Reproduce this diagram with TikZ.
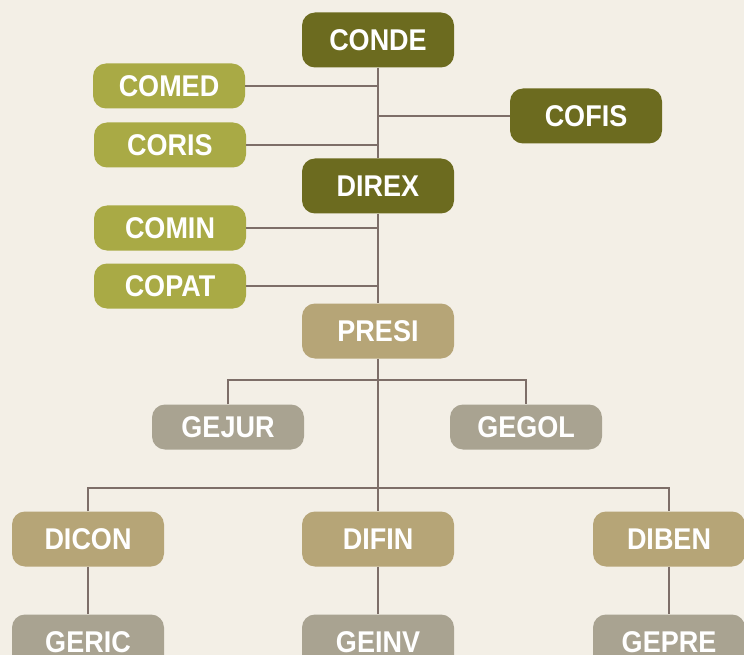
\documentclass[tikz,border=0pt]{standalone}
\usepackage{fontspec}
\setmainfont{Liberation Sans}[FakeStretch=0.9]
\usetikzlibrary{positioning}
\definecolor{bgcol}{HTML}{F3EFE6}
\definecolor{darkolive}{HTML}{6C6B1F}
\definecolor{lightolive}{HTML}{A9AA45}
\definecolor{tan}{HTML}{B6A577}
\definecolor{greytan}{HTML}{A9A391}
\definecolor{linecol}{HTML}{7D6E68}
\tikzset{
  orgbox/.style={rounded corners=13pt,minimum width=152pt,inner sep=0pt,
    text=white,font=\bfseries\fontsize{30}{30}\selectfont},
  tallbox/.style={orgbox,minimum height=55pt},
  lowbox/.style={orgbox,minimum height=45pt}}

\begin{document}
\begin{tikzpicture}[x=1pt,y=-1pt]
        \fill[bgcol] (0,0) rectangle (744,655);
        \clip (0,0) rectangle (744,655);
        \begin{scope}[every node/.style={tallbox,fill=darkolive}]
            \node (conde) at (378,40) {CONDE};
            \node (cofis) at (586,116) {COFIS};
            \node (direx) at (378,186) {DIREX};
        \end{scope}
        \begin{scope}[every node/.style={lowbox,fill=lightolive}]
            \node (comed) at (169,86) {COMED};
            \node (coris) at (170,145) {CORIS};
            \node (comin) at (170,228) {COMIN};
            \node (copat) at (170,286) {COPAT};
        \end{scope}
        \begin{scope}[every node/.style={tallbox,fill=tan}]
            \node (presi) at (378,331) {PRESI};
            \node (dicon) at (88,539) {DICON};
            \node (difin) at (378,539) {DIFIN};
            \node (diben) at (669,539) {DIBEN};
        \end{scope}
        \begin{scope}[every node/.style={lowbox,fill=greytan}]
            \node (gejur) at (228,427) {GEJUR};
            \node (gegol) at (526,427) {GEGOL};
            \node[minimum height=55pt] (geric) at (88,642) {GERIC};
            \node[minimum height=55pt] (geinv) at (378,642) {GEINV};
            \node[minimum height=55pt] (gepre) at (669,642) {GEPRE};
        \end{scope}
        \coordinate (j1) at (378,380);
        \coordinate (j2) at (378,488);
        \begin{scope}[every path/.style={draw=linecol,line width=2.5pt}]
            \path (conde) -- (direx);
            \path (direx) -- (presi);
            \path (presi) -- (difin);
            \path (comed) -- (comed -| conde);
            \path (coris) -- (coris -| conde);
            \path (cofis) -- (cofis -| conde);
            \path (comin) -- (comin -| direx);
            \path (copat) -- (copat -| direx);
            \path (gejur) |- (j1) -| (gegol);
            \path (dicon) |- (j2) -| (diben);
            \path (dicon) -- (geric);
            \path (difin) -- (geinv);
            \path (diben) -- (gepre);
        \end{scope}
    \end{tikzpicture}
\end{document}
